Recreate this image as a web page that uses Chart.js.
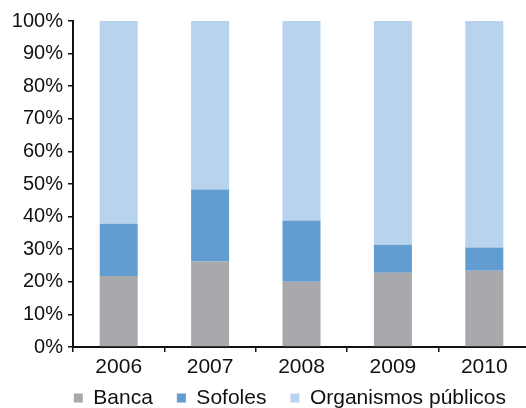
<!DOCTYPE html>
<html>
<head>
<meta charset="utf-8">
<script src="https://cdn.jsdelivr.net/npm/chart.js@4"></script>
<style>
html,body{margin:0;padding:0;overflow:hidden;background:#fff;width:526px;height:408px;}
canvas{display:block;}
</style>
</head>
<body>
<canvas id="c" width="530" height="408"></canvas>
<script>
const categories = ['2006', '2007', '2008', '2009', '2010'];
const seriesNames = ['Banca', 'Sofoles', 'Organismos públicos'];
const banca = [21.8, 26.2, 20.0, 22.8, 23.4];
const sofoles = [16.0, 22.1, 18.8, 8.6, 7.1];
const organismos = [62.2, 51.7, 61.2, 68.6, 69.5];
const yTicks = [0, 10, 20, 30, 40, 50, 60, 70, 80, 90, 100];
const colors = ['#a7a9ac', '#629dd1', '#b7d3ee'];

Chart.defaults.font.family = '"Liberation Sans", Arial, sans-serif';
Chart.defaults.color = '#111';

const legendShift = {
  id: 'legendShift',
  afterLayout(chart) {
    const lg = chart.legend;
    if (lg) { lg.top -= 19.7; lg.bottom = chart.height; }
  }
};

new Chart(document.getElementById('c'), {
  type: 'bar',
  data: {
    labels: categories,
    datasets: [
      {label: seriesNames[0], data: banca, backgroundColor: colors[0]},
      {label: seriesNames[1], data: sofoles, backgroundColor: colors[1]},
      {label: seriesNames[2], data: organismos, backgroundColor: colors[2]}
    ]
  },
  plugins: [legendShift],
  options: {
    responsive: false,
    animation: false,
    devicePixelRatio: 1,
    layout: {padding: {top: 21, left: 0, right: 0, bottom: 0}},
    datasets: {bar: {categoryPercentage: 1, barPercentage: 0.416, borderWidth: 0}},
    plugins: {
      tooltip: {enabled: false},
      legend: {
        position: 'bottom',
        align: 'end',
        maxHeight: 24.8,
        labels: {
          boxWidth: 9,
          boxHeight: 9,
          padding: 24,
          color: '#111',
          font: {size: 21}
        }
      }
    },
    scales: {
      x: {
        stacked: true,
        grid: {display: true, drawOnChartArea: false, drawTicks: true, tickLength: 5, color: '#111', lineWidth: 1.5, offset: true},
        border: {display: true, color: '#111', width: 2},
        ticks: {font: {size: 21}, color: '#111', padding: 3}
      },
      y: {
        stacked: true,
        min: 0,
        max: 100,
        afterFit: (s) => { s.width = 73; },
        afterBuildTicks: (s) => { s.ticks = yTicks.map(v => ({value: v})); },
        grid: {display: true, drawOnChartArea: false, drawTicks: true, tickLength: 5, color: '#111', lineWidth: 1.5},
        border: {display: true, color: '#111', width: 2},
        ticks: {font: {size: 20}, color: '#111', padding: 5, callback: (v) => v + '%'}
      }
    }
  }
});
</script>
</body>
</html>
